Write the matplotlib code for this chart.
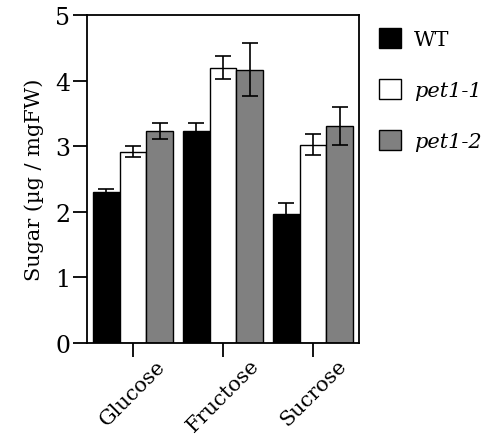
import numpy as np
import matplotlib
matplotlib.use("Agg")
import matplotlib.pyplot as plt
from matplotlib.patches import Patch

plt.rcParams["font.family"] = ["DejaVu Serif"]

sugars = ["Glucose", "Fructose", "Sucrose"]
genotypes = ["WT", "pet1-1", "pet1-2"]
wt = [2.30, 3.23, 1.97]
wt_err = [0.05, 0.12, 0.17]
pet11 = [2.92, 4.20, 3.02]
pet11_err = [0.08, 0.17, 0.16]
pet12 = [3.23, 4.17, 3.31]
pet12_err = [0.12, 0.40, 0.29]

colors = ["black", "white", "#808080"]
label_styles = ["normal", "italic", "italic"]

fig = plt.figure(figsize=(4.89, 4.35), dpi=100)
ax = fig.add_axes([0.178, 0.209, 0.556, 0.754])

x = np.arange(len(sugars))
w = 0.295
series = [(wt, wt_err), (pet11, pet11_err), (pet12, pet12_err)]
for i, (vals, errs) in enumerate(series):
    ax.bar(x + (i - 1) * w, vals, w, color=colors[i], edgecolor="black",
           linewidth=1.0, yerr=errs, capsize=6,
           error_kw=dict(ecolor="black", elinewidth=1.2, capthick=1.2),
           label=genotypes[i], zorder=2)

ax.set_xlim(-0.51, 2.51)
ax.set_ylim(0, 5)
ax.set_yticks(range(0, 6))
ax.set_xticks(x)
ax.set_xticklabels(sugars, rotation=45, ha="center", fontsize=15)
ax.tick_params(axis="y", labelsize=17, length=10, width=1.3, direction="out", pad=2)
ax.tick_params(axis="x", length=10, width=1.3, direction="out", pad=-1)
ax.set_ylabel("Sugar (µg / mgFW)", fontsize=15, labelpad=8)
for s in ax.spines.values():
    s.set_linewidth(1.3)

handles = [Patch(facecolor=c, edgecolor="black", linewidth=1.0) for c in colors]
leg = ax.legend(handles, genotypes, loc="upper left", bbox_to_anchor=(1.045, 0.985),
                frameon=False, fontsize=15, handlelength=1.05, handleheight=1.05,
                labelspacing=1.45, handletextpad=0.6, borderaxespad=0)
for t, st in zip(leg.get_texts(), label_styles):
    t.set_fontstyle(st)

fig.savefig("out.png", dpi=100)
